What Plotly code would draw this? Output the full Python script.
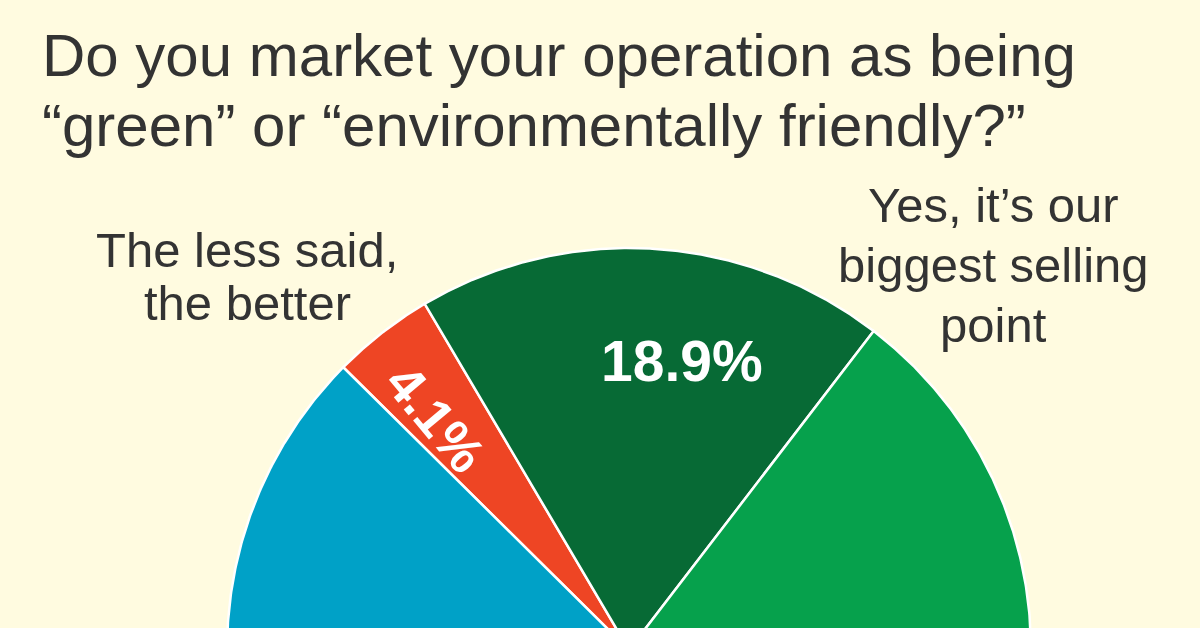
import numpy as np
import plotly.graph_objects as go

# Survey answers, clockwise from the red wedge
slice_names = [
    "The less said, the better",
    "Yes, it's our biggest selling point",
    "Yes, it's one of our selling points",
    "No",
]
slice_values = [4.1, 18.9, 39.5, 37.5]
slice_colors = ["#EE4524", "#076A35", "#06A14C", "#00A1C7"]
slice_labels = ["4.1%", "18.9%", "", ""]

title_lines = [
    "Do you market your operation as being",
    "\u201cgreen\u201d or \u201cenvironmentally friendly?\u201d",
]
left_label_lines = ["The less said,", "the better"]
right_label_lines = ["Yes, it\u2019s our", "biggest selling", "point"]

BG = "#FFFBE0"
TEXT = "#333333"
FONT = "Liberation Sans, Arial, Helvetica, sans-serif"

# pie geometry (in pixel-like axis units, pie is cropped by the frame)
cx, cy, R = 629, 650, 402
start_deg = -45.3

fig = go.Figure()

cum = start_deg
label_pos = []
for name, val, col, lab in zip(slice_names, slice_values, slice_colors, slice_labels):
    span = val / 100 * 360
    th = np.radians(np.linspace(cum, cum + span, max(int(span * 3), 2)))
    xs = np.concatenate([[cx], cx + R * np.sin(th), [cx]])
    ys = np.concatenate([[cy], cy - R * np.cos(th), [cy]])
    fig.add_trace(go.Scatter(
        x=xs, y=ys,
        mode="lines",
        fill="toself",
        fillcolor=col,
        line=dict(color="white", width=2.5),
        name=name,
        hoverinfo="name",
        showlegend=False,
    ))
    label_pos.append((cum + span / 2, lab))
    cum += span

# percentage labels inside the wedges
inside_style = [
    dict(r=0.75, dtheta=-2.0, rotate=True, size=53),
    dict(r=0.73, dtheta=7.0, rotate=False, size=57),
]
for (mid, lab), st in zip(label_pos, inside_style):
    a = np.radians(mid + st["dtheta"])
    fig.add_annotation(
        x=cx + st["r"] * R * np.sin(a),
        y=cy - st["r"] * R * np.cos(a),
        text=f"<b>{lab}</b>",
        showarrow=False,
        textangle=(90 + mid + st["dtheta"]) if st["rotate"] else 0,
        font=dict(family=FONT, size=st["size"], color="white"),
        xanchor="center", yanchor="middle",
    )

# title, left aligned
for i, line in enumerate(title_lines):
    fig.add_annotation(
        x=40, y=55 + i * 70, text=line, showarrow=False,
        xanchor="left", yanchor="middle",
        font=dict(family=FONT, size=60, color=TEXT),
    )

# outside category labels
for i, line in enumerate(left_label_lines):
    fig.add_annotation(
        x=247, y=250 + i * 53, text=line, showarrow=False,
        xanchor="center", yanchor="middle",
        font=dict(family=FONT, size=49, color=TEXT),
    )
for i, line in enumerate(right_label_lines):
    fig.add_annotation(
        x=993, y=205 + i * 60, text=line, showarrow=False,
        xanchor="center", yanchor="middle",
        font=dict(family=FONT, size=49, color=TEXT),
    )

fig.update_layout(
    width=1200, height=628,
    margin=dict(l=0, r=0, t=0, b=0),
    paper_bgcolor=BG, plot_bgcolor=BG,
    xaxis=dict(range=[0, 1200], visible=False, fixedrange=True),
    yaxis=dict(range=[628, 0], visible=False, fixedrange=True),
    showlegend=False,
)

fig.write_html(
    "out.html",
    config={"displayModeBar": False},
    post_script="document.body.style.margin='0';document.body.style.background='%s';" % BG,
)
